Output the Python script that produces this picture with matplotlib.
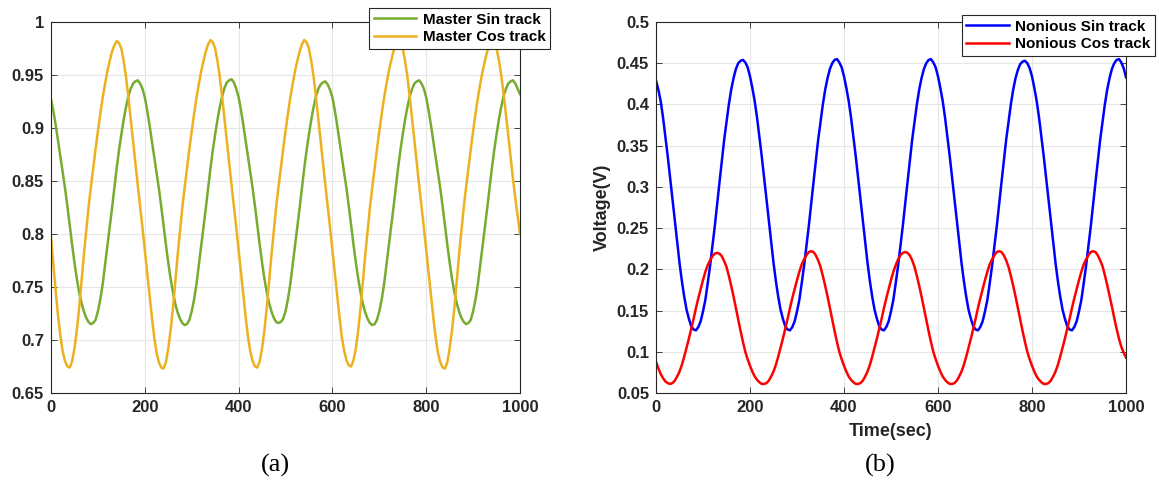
import matplotlib
matplotlib.use('Agg')
import matplotlib.pyplot as plt
import numpy as np
from matplotlib.ticker import FuncFormatter

# sample times (sec), one reading every 5 s
time = np.arange(0, 1001, 5)

# master track, 5 periods of 40 readings + end point
master_sin = [
    0.927, 0.916, 0.903, 0.888, 0.873, 0.858, 0.843, 0.826, 0.808, 0.790,
    0.773, 0.758, 0.745, 0.735, 0.727, 0.721, 0.717, 0.715, 0.716, 0.719,
    0.727, 0.738, 0.752, 0.770, 0.788, 0.806, 0.824, 0.843, 0.862, 0.879,
    0.894, 0.908, 0.920, 0.930, 0.937, 0.942, 0.944, 0.945, 0.942, 0.937,
    0.929, 0.917, 0.903, 0.888, 0.873, 0.858, 0.843, 0.826, 0.808, 0.790,
    0.773, 0.758, 0.745, 0.734, 0.726, 0.720, 0.716, 0.714, 0.715, 0.719,
    0.727, 0.738, 0.752, 0.770, 0.788, 0.806, 0.824, 0.843, 0.862, 0.879,
    0.894, 0.908, 0.920, 0.930, 0.938, 0.943, 0.945, 0.946, 0.943, 0.937,
    0.929, 0.917, 0.903, 0.888, 0.873, 0.858, 0.843, 0.826, 0.808, 0.790,
    0.773, 0.758, 0.745, 0.735, 0.727, 0.721, 0.717, 0.716, 0.717, 0.720,
    0.727, 0.738, 0.752, 0.770, 0.788, 0.806, 0.824, 0.843, 0.862, 0.879,
    0.894, 0.908, 0.920, 0.930, 0.937, 0.941, 0.943, 0.944, 0.941, 0.936,
    0.929, 0.917, 0.903, 0.888, 0.873, 0.858, 0.843, 0.826, 0.808, 0.790,
    0.773, 0.758, 0.745, 0.734, 0.726, 0.720, 0.716, 0.714, 0.715, 0.719,
    0.727, 0.738, 0.752, 0.770, 0.788, 0.806, 0.824, 0.843, 0.862, 0.879,
    0.894, 0.908, 0.920, 0.930, 0.937, 0.942, 0.944, 0.945, 0.942, 0.937,
    0.929, 0.917, 0.903, 0.888, 0.873, 0.858, 0.843, 0.826, 0.808, 0.790,
    0.773, 0.758, 0.745, 0.735, 0.727, 0.721, 0.717, 0.715, 0.716, 0.719,
    0.727, 0.738, 0.752, 0.770, 0.788, 0.806, 0.824, 0.843, 0.862, 0.879,
    0.894, 0.908, 0.920, 0.930, 0.937, 0.942, 0.944, 0.945, 0.942, 0.937,
    0.932]
master_cos = [
    0.797, 0.771, 0.746, 0.723, 0.704, 0.689, 0.680, 0.675, 0.674, 0.680,
    0.692, 0.709, 0.730, 0.755, 0.780, 0.803, 0.825, 0.844, 0.862, 0.880,
    0.897, 0.913, 0.928, 0.941, 0.953, 0.963, 0.972, 0.978, 0.982, 0.980,
    0.975, 0.963, 0.948, 0.929, 0.908, 0.887, 0.866, 0.846, 0.826, 0.806,
    0.785, 0.764, 0.743, 0.722, 0.703, 0.688, 0.679, 0.674, 0.673, 0.679,
    0.692, 0.709, 0.730, 0.755, 0.780, 0.803, 0.825, 0.844, 0.862, 0.880,
    0.897, 0.913, 0.928, 0.941, 0.953, 0.963, 0.972, 0.979, 0.983, 0.981,
    0.975, 0.963, 0.948, 0.929, 0.908, 0.887, 0.866, 0.846, 0.826, 0.806,
    0.785, 0.764, 0.743, 0.722, 0.703, 0.689, 0.680, 0.675, 0.674, 0.680,
    0.692, 0.709, 0.730, 0.755, 0.780, 0.803, 0.825, 0.844, 0.862, 0.880,
    0.897, 0.913, 0.928, 0.941, 0.953, 0.963, 0.972, 0.979, 0.983, 0.981,
    0.975, 0.963, 0.948, 0.929, 0.908, 0.887, 0.866, 0.846, 0.826, 0.806,
    0.785, 0.764, 0.743, 0.722, 0.703, 0.690, 0.681, 0.676, 0.675, 0.681,
    0.692, 0.709, 0.730, 0.755, 0.780, 0.803, 0.825, 0.844, 0.862, 0.880,
    0.897, 0.913, 0.928, 0.941, 0.953, 0.963, 0.972, 0.978, 0.982, 0.980,
    0.975, 0.963, 0.948, 0.929, 0.908, 0.887, 0.866, 0.846, 0.826, 0.806,
    0.785, 0.764, 0.743, 0.722, 0.703, 0.688, 0.679, 0.674, 0.673, 0.679,
    0.692, 0.709, 0.730, 0.755, 0.780, 0.803, 0.825, 0.844, 0.862, 0.880,
    0.897, 0.913, 0.928, 0.941, 0.953, 0.963, 0.972, 0.978, 0.982, 0.980,
    0.975, 0.964, 0.950, 0.932, 0.913, 0.893, 0.872, 0.852, 0.834, 0.817,
    0.800]

# nonious track
nonious_sin = [
    0.429, 0.418, 0.404, 0.384, 0.361, 0.337, 0.311, 0.284, 0.258, 0.232,
    0.208, 0.186, 0.167, 0.151, 0.140, 0.131, 0.127, 0.126, 0.130, 0.137,
    0.149, 0.163, 0.183, 0.204, 0.228, 0.252, 0.279, 0.305, 0.331, 0.357,
    0.379, 0.400, 0.418, 0.432, 0.443, 0.450, 0.453, 0.454, 0.451, 0.445,
    0.434, 0.420, 0.404, 0.384, 0.361, 0.337, 0.311, 0.284, 0.258, 0.232,
    0.208, 0.186, 0.167, 0.151, 0.140, 0.131, 0.127, 0.126, 0.130, 0.137,
    0.149, 0.163, 0.183, 0.204, 0.228, 0.252, 0.279, 0.305, 0.331, 0.357,
    0.379, 0.400, 0.418, 0.432, 0.443, 0.450, 0.454, 0.455, 0.451, 0.445,
    0.434, 0.420, 0.404, 0.384, 0.361, 0.337, 0.311, 0.284, 0.258, 0.232,
    0.208, 0.186, 0.167, 0.151, 0.140, 0.131, 0.127, 0.126, 0.130, 0.137,
    0.149, 0.163, 0.183, 0.204, 0.228, 0.252, 0.279, 0.305, 0.331, 0.357,
    0.379, 0.400, 0.418, 0.432, 0.443, 0.450, 0.454, 0.455, 0.451, 0.445,
    0.434, 0.420, 0.404, 0.384, 0.361, 0.337, 0.311, 0.284, 0.258, 0.232,
    0.208, 0.186, 0.167, 0.151, 0.140, 0.131, 0.127, 0.126, 0.130, 0.137,
    0.149, 0.163, 0.183, 0.204, 0.228, 0.252, 0.279, 0.305, 0.331, 0.357,
    0.379, 0.400, 0.418, 0.432, 0.442, 0.449, 0.452, 0.453, 0.450, 0.444,
    0.434, 0.420, 0.404, 0.384, 0.361, 0.337, 0.311, 0.284, 0.258, 0.232,
    0.208, 0.186, 0.167, 0.151, 0.140, 0.131, 0.127, 0.126, 0.130, 0.137,
    0.149, 0.163, 0.183, 0.204, 0.228, 0.252, 0.279, 0.305, 0.331, 0.357,
    0.379, 0.400, 0.418, 0.432, 0.443, 0.450, 0.454, 0.455, 0.451, 0.444,
    0.433]
nonious_cos = [
    0.088, 0.080, 0.073, 0.068, 0.064, 0.062, 0.061, 0.062, 0.065, 0.070,
    0.076, 0.084, 0.094, 0.105, 0.116, 0.128, 0.140, 0.153, 0.165, 0.176,
    0.187, 0.197, 0.205, 0.211, 0.216, 0.219, 0.220, 0.219, 0.216, 0.210,
    0.203, 0.192, 0.180, 0.167, 0.153, 0.139, 0.125, 0.112, 0.100, 0.091,
    0.083, 0.076, 0.070, 0.066, 0.063, 0.061, 0.061, 0.062, 0.065, 0.070,
    0.076, 0.084, 0.094, 0.105, 0.116, 0.128, 0.140, 0.153, 0.165, 0.176,
    0.187, 0.197, 0.206, 0.212, 0.217, 0.221, 0.222, 0.221, 0.217, 0.211,
    0.203, 0.192, 0.180, 0.167, 0.153, 0.139, 0.125, 0.112, 0.100, 0.091,
    0.083, 0.076, 0.070, 0.066, 0.063, 0.061, 0.061, 0.062, 0.065, 0.070,
    0.076, 0.084, 0.094, 0.105, 0.116, 0.128, 0.140, 0.153, 0.165, 0.176,
    0.187, 0.197, 0.205, 0.212, 0.217, 0.220, 0.221, 0.220, 0.217, 0.211,
    0.203, 0.192, 0.180, 0.167, 0.153, 0.139, 0.125, 0.112, 0.100, 0.091,
    0.083, 0.076, 0.070, 0.066, 0.063, 0.061, 0.061, 0.062, 0.065, 0.070,
    0.076, 0.084, 0.094, 0.105, 0.116, 0.128, 0.140, 0.153, 0.165, 0.176,
    0.187, 0.197, 0.206, 0.212, 0.217, 0.221, 0.222, 0.221, 0.217, 0.211,
    0.203, 0.192, 0.180, 0.167, 0.153, 0.139, 0.125, 0.112, 0.100, 0.091,
    0.083, 0.076, 0.070, 0.066, 0.063, 0.061, 0.061, 0.062, 0.065, 0.070,
    0.076, 0.084, 0.094, 0.105, 0.116, 0.128, 0.140, 0.153, 0.165, 0.176,
    0.187, 0.197, 0.206, 0.212, 0.217, 0.221, 0.222, 0.221, 0.217, 0.211,
    0.204, 0.193, 0.181, 0.168, 0.155, 0.141, 0.128, 0.116, 0.106, 0.099,
    0.093]

green = '#77AC30'
orange = '#EDB120'
axcol = '#262626'

plt.rcParams['font.family'] = ['Liberation Sans', 'DejaVu Sans']
plt.rcParams['font.weight'] = 'bold'

W, H = 1159, 496
fig = plt.figure(figsize=(W / 100, H / 100), dpi=100)

ax1 = fig.add_axes([51 / W, 1 - 393 / H, 469 / W, 371 / H])
ax2 = fig.add_axes([656 / W, 1 - 393 / H, 470 / W, 371 / H])


def style(ax, ylo, yhi, yticks):
    ax.set_xlim(0, 1000)
    ax.set_ylim(ylo, yhi)
    ax.set_xticks(np.arange(0, 1001, 200))
    ax.set_yticks(yticks)
    ax.yaxis.set_major_formatter(FuncFormatter(lambda v, p: '%g' % round(v, 3)))
    ax.grid(True, color='#e6e6e6', linewidth=0.8)
    ax.set_axisbelow(True)
    ax.tick_params(direction='in', top=True, right=True, length=4,
                   width=0.6, color=axcol, labelsize=12, labelcolor=axcol,
                   pad=5)
    for lab in ax.get_xticklabels() + ax.get_yticklabels():
        lab.set_fontweight('bold')
    for s in ax.spines.values():
        s.set_color(axcol)
        s.set_linewidth(0.8)


ax1.plot(time, master_sin, color=green, lw=1.8, label='Master Sin track')
ax1.plot(time, master_cos, color=orange, lw=1.8, label='Master Cos track')
style(ax1, 0.65, 1.0, np.arange(0.65, 1.001, 0.05))

ax2.plot(time, nonious_sin, color='#0000ff', lw=1.8, label='Nonious Sin track')
ax2.plot(time, nonious_cos, color='#ff0000', lw=1.8, label='Nonious Cos track')
style(ax2, 0.05, 0.5, np.arange(0.05, 0.501, 0.05))
ax2.set_xlabel('Time(sec)', fontsize=13, fontweight='bold', color=axcol, labelpad=6)
ax2.set_ylabel('Voltage(V)', fontsize=13, fontweight='bold', color=axcol, labelpad=4)

for ax, anchor in ((ax1, (550 / W, 1 - 8 / H)), (ax2, (1155 / W, 1 - 15 / H))):
    leg = ax.legend(loc='upper right', bbox_to_anchor=anchor,
                    bbox_transform=fig.transFigure, fancybox=False,
                    framealpha=1, edgecolor=axcol, handlelength=2.8,
                    handletextpad=0.4, labelspacing=0.25, borderpad=0.3,
                    borderaxespad=0, prop={'weight': 'bold', 'size': 11})
    leg.get_frame().set_linewidth(0.8)

fig.text(275 / W, 1 - 465 / H, '(a)', ha='center', va='center',
         family='Liberation Serif', fontweight='normal', fontsize=19)
fig.text(880 / W, 1 - 465 / H, '(b)', ha='center', va='center',
         family='Liberation Serif', fontweight='normal', fontsize=19)

fig.savefig('out.png', dpi=100)
